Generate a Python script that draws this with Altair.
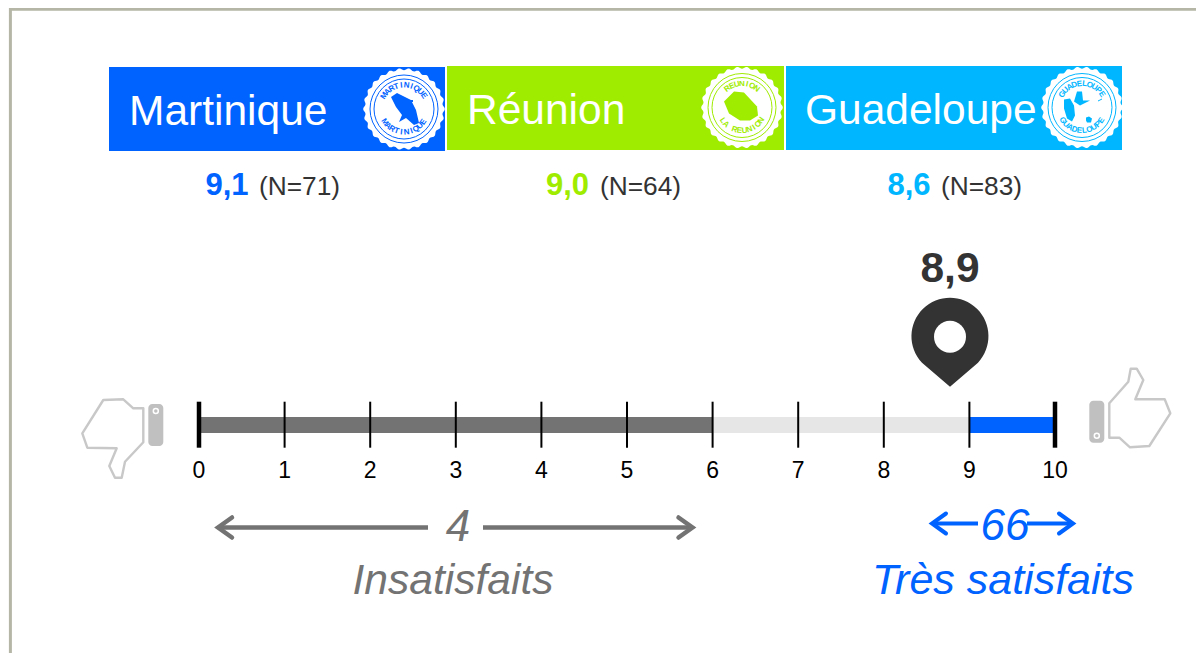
import math
import altair as alt
import pandas as pd

# ---- values
regions = ["Martinique", "Réunion", "Guadeloupe"]
scores = ["9,1", "9,0", "8,6"]
counts = ["(N=71)", "(N=64)", "(N=83)"]
seal_top = ["MARTINIQUE", "REUNION", "GUADELOUPE"]
seal_bottom = ["MARTINIQUE", "LA REUNION", "GUADELOUPE"]
ticks = list(range(11))
segments_from = [0, 6, 9]
segments_to = [6, 9, 10]
overall = "8,9"
low_count = "4"
low_label = "Insatisfaits"
high_count = "66"
high_label = "Très satisfaits"

# ---- styles and layout
BLUE, GREEN, SKY = "#0062ff", "#9fec00", "#00b6ff"
colors = [BLUE, GREEN, SKY]
seg_colors = ["#737373", "#e6e6e6", BLUE]
GREY, DARK, HANDLE, OUTLINE = "#737373", "#333333", "#c0c0c0", "#c8c8c8"
FONT = "Liberation Sans"
X0, XU = 199.0, 85.6
W, H = 1188, 645


def u(px):
    return (px - X0) / XU


xs = alt.Scale(domain=[u(8), u(8 + W)], nice=False, zero=False)
ys = alt.Scale(domain=[8 + H, 8], nice=False, zero=False)
X = alt.X("x:Q", scale=xs, axis=None)
Y = alt.Y("y:Q", scale=ys, axis=None)


def rects(rows, **kw):
    df = pd.DataFrame(rows, columns=["x", "x2", "y", "y2"])
    return alt.Chart(df).mark_rect(**kw).encode(X, alt.X2("x2:Q"), Y, alt.Y2("y2:Q"))


def rule(rows, **kw):
    df = pd.DataFrame(rows, columns=["x", "x2", "y", "y2"])
    return alt.Chart(df).mark_rule(**kw).encode(X, alt.X2("x2:Q"), Y, alt.Y2("y2:Q"))


def text(s, px, py, size, color, align="left", bold=False, italic=False):
    df = pd.DataFrame({"x": [u(px)], "y": [py], "t": [s]})
    return alt.Chart(df).mark_text(
        font=FONT, fontSize=size, color=color, align=align, baseline="alphabetic",
        fontWeight="bold" if bold else "normal",
        fontStyle="italic" if italic else "normal",
    ).encode(X, Y, text="t:N")


def symbol(shape, px, py, size=4, **kw):
    df = pd.DataFrame({"x": [u(px)], "y": [py]})
    return alt.Chart(df).mark_point(shape=shape, size=size, opacity=1, **kw).encode(X, Y)


def poly(points, close=True):
    p = "M" + " L".join(f"{a:.2f},{b:.2f}" for a, b in points)
    return p + (" Z" if close else "")


def scallop(radius, amp, n):
    pts = []
    for i in range(n * 10):
        th = 2 * math.pi * i / (n * 10)
        r = radius + amp * math.cos(n * th)
        pts.append((r * math.cos(th), r * math.sin(th)))
    return poly(pts)


def curved(word, cx, cy, radius, step, top, color):
    rows = []
    m = (len(word) - 1) / 2
    for i, ch in enumerate(word):
        off = (i - m) * step
        th = math.radians(off)
        if top:
            x, y = cx + radius * math.sin(th), cy - radius * math.cos(th)
            ang = off
        else:
            x, y = cx + radius * math.sin(th), cy + radius * math.cos(th)
            ang = -off
        rows.append({"x": u(x), "y": y, "t": ch, "a": ang % 360})
    return alt.Chart(pd.DataFrame(rows)).mark_text(
        font=FONT, fontSize=8, fontWeight="bold", color=color, align="center", baseline="alphabetic"
    ).encode(X, Y, text="t:N", angle=alt.Angle("a:Q", scale=None))


layers = []

# frame
frame = "#b5b6a6"
layers.append(rule([(u(9), u(8 + W), 9.2, 9.2)], color=frame, strokeWidth=3))
layers.append(rule([(u(10.4), u(10.4), 8, 8 + H)], color=frame, strokeWidth=3))

# header bands
bands = [(109, 445, 67, 151), (447, 784, 66, 150), (786, 1122, 66, 150)]
label_x = [129, 467, 805]
label_y = [125, 124, 124]
seal_c = [(404, 109), (742, 107.5), (1082, 107.5)]
score_x = [205.5, 546, 887.5]
count_x = [259, 600, 941]
seal_steps = [12.5, 12.5, 12.5]
islands = [
    [[(-13, -12), (-7, -16), (7, -9), (12, 1), (15, 14), (10, 16), (2, 9), (-5, 13), (-2, 6), (-8, -2)],
     [(7, -9), (9, -9), (9, -7), (7, -7)]],
    [[(-18, -6), (-8, -16), (2, -15), (15, -1), (16, 8), (8, 13), (-2, 13), (-13, 6)]],
    [[(-18, -8), (-12, -9), (-8, -2), (-7, 8), (-10, 14), (-15, 11), (-18, 1)],
     [(-5, -16), (0, -16), (1, -7), (8, -7), (-2, -2), (-8, -6)],
     [(4, 10), (7, 9), (10, 11), (9, 15), (5, 15), (4, 13)],
     [(16, -7), (20, -9), (20, -8), (16, -6)]],
]

for i, name in enumerate(regions):
    c = colors[i]
    a, b, top, bot = bands[i]
    cx, cy = seal_c[i]
    layers.append(rects([(u(a), u(b), top, bot)], color=c))
    layers.append(text(name, label_x[i], label_y[i], 42.5, "white"))
    layers.append(symbol(scallop(39.8, 1.0, 26), cx, cy, filled=True, fill="white", strokeWidth=0))
    layers.append(symbol("circle", cx, cy, size=68 ** 2, filled=False, stroke=c, strokeWidth=1))
    layers.append(symbol("circle", cx, cy, size=60 ** 2, filled=False, stroke=c, strokeWidth=1))
    layers.append(symbol(" ".join(poly(p) for p in islands[i]), cx, cy, filled=True, fill=c, strokeWidth=0))
    layers.append(curved(seal_top[i], cx, cy, 21.5, seal_steps[i], True, c))
    layers.append(curved(seal_bottom[i], cx, cy, 25.5, seal_steps[i], False, c))
    layers.append(text(scores[i], score_x[i], 195, 31, c, bold=True))
    layers.append(text(counts[i], count_x[i], 195, 26.3, DARK))

# gauge
for s, e, c in zip(segments_from, segments_to, seg_colors):
    layers.append(rects([(s, e, 417, 433)], color=c))
for t in ticks:
    w = 4.5 if t in (ticks[0], ticks[-1]) else 2
    layers.append(rule([(t, t, 401.7, 447.7)], color="black", strokeWidth=w))
tick_df = pd.DataFrame({"x": ticks, "y": [478] * len(ticks), "t": [str(t) for t in ticks]})
layers.append(alt.Chart(tick_df).mark_text(
    font=FONT, fontSize=23, color="black", align="center", baseline="alphabetic"
).encode(X, Y, text="t:N"))

# pin
layers.append(text(overall, 950, 282, 42.5, DARK, align="center", bold=True))
layers.append(symbol("M0,50 L-28,26 A38.5,38.5 0 1 1 28,26 Z", 950, 336.7, filled=True, fill=DARK, strokeWidth=0))
layers.append(symbol("circle", 950, 336.7, size=32 ** 2, filled=True, fill="white", strokeWidth=0))

# thumbs
down = [(103.3, 400), (123.3, 399.3), (133.3, 408.3), (143.3, 408.3), (143.3, 442.3), (125, 461.7),
        (121.7, 477.7), (115, 477.7), (109.3, 466), (116.7, 448.3), (87.3, 447.7), (82.3, 433.3)]
up = [(1130.7, 368.7), (1136.7, 368.7), (1143.3, 380), (1135.3, 399.3), (1164.7, 399.3), (1170.3, 413.3),
      (1149.3, 446), (1130, 447.3), (1119.3, 437.7), (1109.3, 437.7), (1109.3, 403.3), (1128.3, 381.7)]
for pts, hx, hy, dot in [(down, 148.3, 404, (155.8, 411)), (up, 1089.3, 400.7, (1096.8, 435.7))]:
    layers.append(symbol(poly([(a - 120, b - 420) for a, b in pts]), 120, 420, filled=False,
                         stroke=OUTLINE, strokeWidth=2.4, strokeJoin="round"))
    layers.append(rects([(u(hx), u(hx + 15), hy, hy + 42)], color=HANDLE, cornerRadius=4))
    layers.append(symbol("circle", dot[0], dot[1], size=25, filled=False, stroke="white", strokeWidth=1.5))

# arrows
LEFT = "M14,-10 L0,0 L14,10"
RIGHT = "M-14,-10 L0,0 L-14,10"
for (a, b, c_, d, y_, col, sw) in [(218, 428, 483, 692.5, 527.5, GREY, 4.5), (932, 978, 1027, 1073, 523.5, BLUE, 4)]:
    layers.append(rule([(u(a), u(b), y_, y_), (u(c_), u(d), y_, y_)], color=col, strokeWidth=sw))
    layers.append(symbol(LEFT, a, y_, filled=False, stroke=col, strokeWidth=sw, strokeCap="round", strokeJoin="miter"))
    layers.append(symbol(RIGHT, d, y_, filled=False, stroke=col, strokeWidth=sw, strokeCap="round", strokeJoin="miter"))

layers.append(text(low_count, 458, 541, 44, GREY, align="center", italic=True))
layers.append(text(low_label, 453, 594, 42.6, GREY, align="center", italic=True))
layers.append(text(high_count, 1005, 540, 44, BLUE, align="center", italic=True))
layers.append(text(high_label, 1003, 594, 43, BLUE, align="center", italic=True))

chart = alt.layer(*layers).properties(
    width=W, height=H, padding=0, autosize=alt.AutoSizeParams(type="none")
).configure_view(stroke=None)

chart.save("out.html", embed_options={"renderer": "svg", "actions": False})
